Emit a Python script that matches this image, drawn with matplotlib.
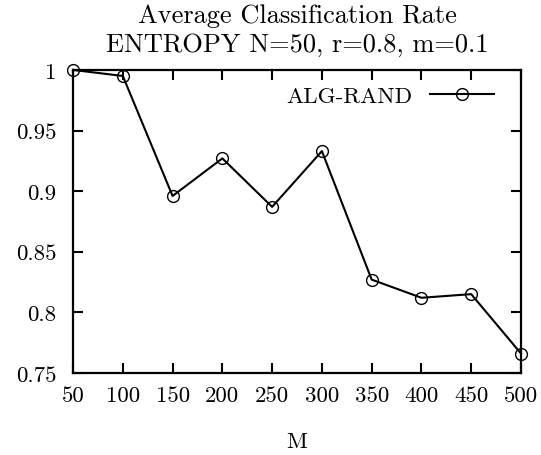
"""Average classification rate vs M (ALG-RAND), gnuplot-style."""
import matplotlib
matplotlib.use("Agg")
import matplotlib.pyplot as plt

plt.rcParams["font.family"] = ["cmr10", "DejaVu Serif"]
plt.rcParams["axes.formatter.use_mathtext"] = True

m_values = [50, 100, 150, 200, 250, 300, 350, 400, 450, 500]
alg_rand = [1.0, 0.995, 0.896, 0.927, 0.887, 0.933, 0.827, 0.812, 0.815, 0.766]

x_ticks = [50, 100, 150, 200, 250, 300, 350, 400, 450, 500]
y_ticks = [0.75, 0.8, 0.85, 0.9, 0.95, 1.0]
y_tick_labels = ["0.75", "0.8", "0.85", "0.9", "0.95", "1"]

FS = 16.5

fig = plt.figure(figsize=(5.41, 4.56), dpi=100)
ax = fig.add_axes([0.135, 0.18, 0.828, 0.6645])

ax.plot(m_values, alg_rand, color="black", lw=1.5, marker="o",
        markersize=8.5, markerfacecolor="none", markeredgewidth=1.0,
        label="ALG-RAND", clip_on=False)

ax.set_xlim(50, 500)
ax.set_ylim(0.75, 1.0)
ax.set_xticks(x_ticks)
ax.set_xticklabels([str(v) for v in x_ticks])
ax.set_yticks(y_ticks)
ax.set_yticklabels(y_tick_labels)

ax.tick_params(direction="in", length=7, width=1.5, top=True, right=True,
               labelsize=FS)
ax.tick_params(axis="x", pad=9)
ax.tick_params(axis="y", pad=12)
for sp in ax.spines.values():
    sp.set_linewidth(1.6)

ax.set_xlabel("M", fontsize=FS, labelpad=19)
ax.set_title("Average Classification Rate\nENTROPY N=50, r=0.8, m=0.1",
             fontsize=19, linespacing=1.25, pad=14)

ax.legend(loc="upper right", frameon=False, markerfirst=False, fontsize=FS,
          handlelength=2.8, handletextpad=0.75, borderaxespad=0.3,
          bbox_to_anchor=(0.975, 1.0))

fig.savefig("out.png", dpi=100, facecolor="white")
